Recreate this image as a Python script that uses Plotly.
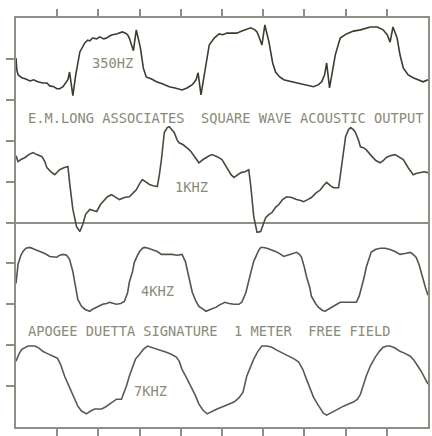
import plotly.graph_objects as go

# Screen divisions: x 0..10 (time), y -5..5 (deflection)
x_ticks = [1, 2, 3, 4, 5, 6, 7, 8, 9]
y_ticks = [-4, -3, -2, -1, 0, 1, 2, 3, 4]

# 350 Hz trace
x_350 = [0.00,0.02,0.05,0.14,0.24,0.34,0.43,0.53,0.65,0.75,0.82,0.92,0.99,1.06,1.14,1.18,1.26,1.30,1.38,1.45,
         1.55,1.67,1.74,1.79,1.86,1.96,2.03,2.13,2.20,2.27,2.34,2.44,2.51,2.58,2.66,2.71,2.75,2.85,2.92,3.02,
         3.09,3.16,3.29,3.41,3.55,3.72,3.86,4.03,4.15,4.28,4.37,4.42,4.49,4.59,4.69,4.81,4.93,5.02,5.12,5.24,
         5.36,5.48,5.60,5.70,5.80,5.85,5.89,5.97,6.04,6.14,6.23,6.30,6.40,6.50,6.62,6.81,7.00,7.22,7.34,7.42,
         7.49,7.54,7.61,7.68,7.75,7.87,8.02,8.19,8.36,8.60,8.77,8.91,9.01,9.08,9.15,9.25,9.32,9.40,9.52,9.64,
         9.76,9.88,10.00]
y_350 = [4.02,3.73,3.61,3.54,3.51,3.46,3.49,3.44,3.41,3.41,3.34,3.32,3.27,3.27,3.32,3.37,3.49,3.68,3.10,3.61,
         4.17,4.39,4.46,4.44,4.51,4.49,4.54,4.49,4.51,4.56,4.59,4.61,4.63,4.66,4.63,4.59,4.51,4.20,4.71,4.27,
         3.78,3.56,3.51,3.44,3.39,3.32,3.29,3.24,3.29,3.37,3.49,3.66,3.12,3.78,4.34,4.51,4.61,4.59,4.63,4.63,
         4.63,4.68,4.73,4.76,4.71,4.66,4.56,4.34,4.83,4.41,3.90,3.68,3.56,3.49,3.46,3.41,3.37,3.32,3.37,3.44,
         3.61,3.90,3.29,3.68,4.10,4.51,4.61,4.68,4.71,4.78,4.78,4.71,4.59,4.41,4.78,4.51,4.10,3.78,3.61,3.54,
         3.49,3.44,3.49]

# 1 kHz trace
x_1k = [0.00,0.05,0.12,0.22,0.31,0.41,0.51,0.63,0.70,0.75,0.85,0.94,1.01,1.06,1.16,1.26,1.30,1.38,1.47,1.55,
        1.62,1.69,1.79,1.88,1.96,2.05,2.15,2.22,2.32,2.42,2.51,2.63,2.75,2.85,2.92,3.00,3.07,3.14,3.24,3.33,
        3.43,3.48,3.53,3.60,3.67,3.72,3.79,3.84,3.91,3.96,4.06,4.13,4.20,4.25,4.35,4.44,4.54,4.61,4.69,4.76,
        4.88,5.00,5.12,5.22,5.29,5.36,5.46,5.56,5.65,5.70,5.77,5.85,5.94,6.01,6.06,6.14,6.21,6.30,6.38,6.47,
        6.57,6.69,6.81,6.91,6.98,7.08,7.17,7.27,7.39,7.46,7.54,7.63,7.71,7.83,7.90,8.00,8.07,8.12,8.19,8.24,
        8.31,8.36,8.43,8.50,8.60,8.67,8.74,8.84,8.91,8.99,9.08,9.20,9.30,9.40,9.52,9.64,9.71,9.81,9.90,10.00]
y_1k = [1.63,1.49,1.54,1.59,1.66,1.71,1.66,1.61,1.49,1.34,1.24,1.17,1.24,1.29,1.34,1.37,0.98,0.32,-0.10,-0.22,
        -0.05,0.20,0.32,0.29,0.27,0.44,0.56,0.63,0.68,0.61,0.56,0.61,0.63,0.73,0.80,0.95,1.05,1.00,0.93,0.90,
        0.88,1.17,1.54,2.20,2.32,2.34,2.27,2.20,2.02,1.95,1.90,1.85,1.78,1.73,1.59,1.46,1.54,1.59,1.63,1.66,
        1.61,1.54,1.34,1.17,1.10,1.15,1.22,1.24,1.29,0.88,0.15,-0.24,-0.22,-0.02,0.12,0.20,0.24,0.37,0.44,0.56,
        0.63,0.61,0.56,0.54,0.51,0.56,0.61,0.71,0.80,0.90,0.98,0.90,0.85,0.85,1.37,2.10,2.27,2.32,2.27,2.20,
        2.02,1.85,1.83,1.78,1.66,1.59,1.51,1.46,1.51,1.59,1.63,1.66,1.61,1.54,1.34,1.17,1.20,1.22,1.24,1.22]

# 4 kHz trace
x_4k = [0.00,0.05,0.12,0.17,0.24,0.34,0.46,0.58,0.70,0.82,0.92,0.99,1.06,1.14,1.23,1.30,1.38,1.43,1.50,1.59,
        1.67,1.74,1.79,1.86,1.96,2.03,2.10,2.20,2.27,2.37,2.44,2.54,2.63,2.71,2.75,2.83,2.87,2.95,3.00,3.07,
        3.12,3.21,3.31,3.43,3.53,3.65,3.79,3.91,4.03,4.11,4.15,4.23,4.28,4.37,4.44,4.54,4.61,4.73,4.86,4.93,
        5.00,5.07,5.17,5.29,5.41,5.48,5.58,5.65,5.70,5.77,5.82,5.89,5.94,6.01,6.09,6.18,6.30,6.40,6.50,6.59,
        6.67,6.74,6.81,6.88,6.93,7.00,7.05,7.13,7.17,7.27,7.34,7.44,7.51,7.58,7.66,7.78,7.87,7.97,8.07,8.16,
        8.26,8.33,8.38,8.45,8.50,8.57,8.62,8.72,8.84,8.96,9.08,9.20,9.32,9.44,9.57,9.64,9.71,9.78,9.83,9.90,
        9.95,10.00]
y_4k = [-1.49,-1.02,-0.80,-0.71,-0.63,-0.61,-0.66,-0.71,-0.76,-0.83,-0.85,-0.85,-0.80,-0.78,-0.80,-0.90,-1.20,-1.46,-1.88,-2.05,
        -2.12,-2.15,-2.17,-2.12,-2.07,-2.02,-2.00,-1.98,-1.95,-1.98,-2.00,-1.98,-1.93,-1.71,-1.46,-1.20,-0.98,-0.80,-0.71,-0.63,
        -0.61,-0.63,-0.66,-0.71,-0.78,-0.78,-0.78,-0.80,-0.78,-0.95,-1.15,-1.46,-1.71,-1.93,-2.05,-2.12,-2.17,-2.12,-2.07,-2.02,
        -1.98,-1.95,-1.98,-2.00,-2.00,-1.95,-1.71,-1.46,-1.22,-0.95,-0.83,-0.68,-0.61,-0.61,-0.63,-0.66,-0.71,-0.76,-0.83,-0.80,
        -0.78,-0.76,-0.73,-0.78,-0.85,-1.10,-1.32,-1.59,-1.80,-1.98,-2.07,-2.15,-2.17,-2.12,-2.07,-2.00,-1.95,-1.95,-1.95,-1.95,
        -1.95,-1.80,-1.63,-1.34,-1.10,-0.85,-0.73,-0.66,-0.63,-0.63,-0.66,-0.71,-0.78,-0.76,-0.73,-0.78,-0.85,-1.02,-1.22,-1.44,
        -1.63,-1.78]

# 7 kHz trace
x_7k = [0.00,0.07,0.14,0.22,0.29,0.39,0.46,0.56,0.65,0.75,0.87,0.94,1.01,1.09,1.18,1.26,1.35,1.43,1.50,1.59,
        1.71,1.81,1.91,2.00,2.08,2.17,2.27,2.37,2.44,2.56,2.63,2.68,2.75,2.83,2.90,3.00,3.09,3.19,3.29,3.41,
        3.53,3.65,3.77,3.89,3.96,4.03,4.13,4.25,4.35,4.44,4.54,4.64,4.76,4.88,5.00,5.12,5.29,5.41,5.51,5.60,
        5.70,5.77,5.87,5.97,6.09,6.21,6.33,6.43,6.55,6.67,6.76,6.86,6.96,7.05,7.15,7.22,7.32,7.39,7.46,7.54,
        7.63,7.75,7.85,7.95,8.07,8.19,8.29,8.36,8.43,8.50,8.60,8.72,8.82,8.91,9.01,9.08,9.20,9.32,9.44,9.57,
        9.66,9.76,9.83,9.90,10.00]
y_7k = [-3.39,-3.22,-3.10,-3.05,-3.02,-3.02,-3.02,-3.07,-3.15,-3.20,-3.27,-3.29,-3.32,-3.49,-3.76,-3.95,-4.12,-4.32,-4.49,-4.61,
        -4.68,-4.61,-4.56,-4.56,-4.56,-4.51,-4.44,-4.37,-4.32,-4.32,-4.15,-4.00,-3.76,-3.54,-3.34,-3.22,-3.10,-3.02,-3.05,-3.10,
        -3.12,-3.17,-3.22,-3.29,-3.39,-3.59,-3.78,-4.00,-4.22,-4.44,-4.59,-4.68,-4.61,-4.56,-4.51,-4.46,-4.39,-4.29,-4.15,-3.76,
        -3.49,-3.34,-3.15,-3.02,-3.02,-3.05,-3.12,-3.17,-3.24,-3.29,-3.34,-3.41,-3.59,-3.83,-4.07,-4.27,-4.44,-4.56,-4.66,-4.71,
        -4.66,-4.61,-4.54,-4.49,-4.44,-4.39,-4.32,-4.20,-3.98,-3.76,-3.51,-3.29,-3.15,-3.05,-3.02,-3.02,-3.07,-3.15,-3.20,-3.27,
        -3.37,-3.51,-3.63,-3.76,-3.95]

labels = ["350HZ", "E.M.LONG ASSOCIATES  SQUARE WAVE ACOUSTIC OUTPUT", "1KHZ", "4KHZ",
          "APOGEE DUETTA SIGNATURE  1 METER  FREE FIELD", "7KHZ"]
label_x = [2.34, 0.25, 4.25, 3.43, 0.25, 3.26]
label_y = [3.90, 2.56, 0.88, -1.68, -2.66, -4.12]
label_anchor = ["center", "left", "center", "center", "left", "center"]

GRID = "#8e8e84"
TEXT = "#8a8a78"
FONT = "DejaVu Sans Mono, Liberation Mono, monospace"

fig = go.Figure()
for xs, ys, col in [(x_350, y_350, "#3c3c30"), (x_1k, y_1k, "#4a4a3c"),
                    (x_4k, y_4k, "#55554a"), (x_7k, y_7k, "#5a5a4e")]:
    fig.add_trace(go.Scatter(x=xs, y=ys, mode="lines",
                             line=dict(color=col, width=1.6), hoverinfo="skip"))

for t, x, y, a in zip(labels, label_x, label_y, label_anchor):
    fig.add_annotation(x=x, y=y, text=t, showarrow=False, xanchor=a, yanchor="middle",
                       font=dict(family=FONT, size=13.7, color=TEXT))

fig.update_layout(
    width=432, height=436,
    margin=dict(l=16, r=2, t=18, b=8),
    paper_bgcolor="white", plot_bgcolor="white",
    showlegend=False,
    xaxis=dict(range=[0, 10], tickvals=x_ticks, ticks="outside", ticklen=7, tickwidth=1.5,
               tickcolor=GRID, showticklabels=False, showgrid=False, zeroline=False,
               showline=True, linecolor=GRID, linewidth=1.5, mirror="ticks", fixedrange=True),
    yaxis=dict(range=[-5, 5], tickvals=y_ticks,
               ticks="outside", ticklen=8, tickwidth=1.5,
               tickcolor=GRID, showticklabels=False, showgrid=False,
               zeroline=True, zerolinecolor=GRID, zerolinewidth=1.5,
               showline=True, linecolor=GRID, linewidth=1.5, mirror=True, fixedrange=True),
)

fig.write_html("out.html", config={"displayModeBar": False},
               post_script="document.body.style.margin='0';")
